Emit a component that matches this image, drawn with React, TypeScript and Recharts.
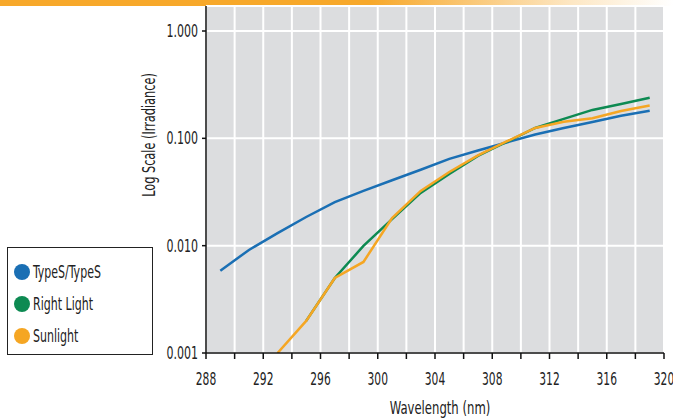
import { LineChart, Line, XAxis, YAxis, CartesianGrid } from 'recharts'

const wavelengths = [289, 291, 293, 295, 297, 299, 301, 303, 305, 307, 309, 311, 313, 315, 317, 319]
const typeS = [0.00585, 0.00912, 0.0131, 0.0185, 0.0255, 0.0324, 0.0407, 0.051, 0.0643, 0.0771, 0.0916, 0.1086, 0.125, 0.142, 0.162, 0.181]
const rightLight = [null, null, null, 0.00199, 0.005, 0.00994, 0.0177, 0.031, 0.0466, 0.0686, 0.0925, 0.125, 0.152, 0.184, 0.209, 0.239]
const sunlight = [null, null, 0.001, 0.00199, 0.005, 0.00705, 0.0181, 0.0324, 0.0486, 0.0693, 0.0935, 0.125, 0.143, 0.154, 0.18, 0.202]

const xTicks = [288, 290, 292, 294, 296, 298, 300, 302, 304, 306, 308, 310, 312, 314, 316, 318, 320]
const yTicks = [0.001, 0.01, 0.1, 1]

const series = [
  { key: 'typeS', name: 'TypeS/TypeS', color: '#1a6fb4' },
  { key: 'rightLight', name: 'Right Light', color: '#0d8a52' },
  { key: 'sunlight', name: 'Sunlight', color: '#f5a623' },
]

const data = wavelengths.map((w, i) => ({
  w,
  typeS: typeS[i],
  rightLight: rightLight[i],
  sunlight: sunlight[i],
}))

const FONT = "'Liberation Sans Narrow', 'DejaVu Sans Condensed', 'Roboto Condensed', 'Liberation Sans', sans-serif"

function XTick({ x, y, payload }: any) {
  if ((payload.value - 288) % 4 !== 0) return null
  return (
    <text
      transform={`translate(${x},${y + 24}) scale(0.66,1)`}
      textAnchor="middle"
      fontSize={18}
      fontFamily={FONT}
      fill="#222"
    >
      {payload.value}
    </text>
  )
}

function YTick({ x, y, payload }: any) {
  return (
    <text
      transform={`translate(${x - 2},${y + 6}) scale(0.68,1)`}
      textAnchor="end"
      fontSize={18}
      fontFamily={FONT}
      fill="#222"
    >
      {payload.value.toFixed(3)}
    </text>
  )
}

function LegendBox() {
  return (
    <div
      style={{
        position: 'absolute',
        left: 7,
        top: 247,
        width: 146,
        height: 108,
        border: '1.5px solid #222',
        background: '#fff',
        boxSizing: 'border-box',
        paddingTop: 8,
      }}
    >
      {series.map((s) => (
        <div key={s.key} style={{ display: 'flex', alignItems: 'center', height: 32 }}>
          <span
            style={{
              width: 16,
              height: 16,
              borderRadius: 8,
              background: s.color,
              marginLeft: 6,
              marginRight: 3,
              display: 'inline-block',
              flex: 'none',
            }}
          />
          <span
            style={{
              fontFamily: FONT,
              fontSize: 17,
              color: '#222',
              display: 'inline-block',
              transform: 'scaleX(0.72)',
              transformOrigin: 'left center',
              whiteSpace: 'nowrap',
            }}
          >
            {s.name}
          </span>
        </div>
      ))}
    </div>
  )
}

export default function App() {
  return (
    <div style={{ position: 'absolute', left: 0, top: 0, width: 673, height: 419, background: '#fff' }}>
      <div
        style={{
          position: 'absolute',
          left: 0,
          top: 0,
          width: 673,
          height: 6,
          background: 'linear-gradient(to right, #f7a82a 0%, #f7a82a 55%, #fde7c4 85%, #ffffff 100%)',
        }}
      />
      <LineChart
        width={673}
        height={419}
        data={data}
        margin={{ top: 6, right: 9, left: 0, bottom: 0 }}
      >
        <CartesianGrid fill="#dcdddf" stroke="#ffffff" strokeWidth={2} />
        <XAxis
          dataKey="w"
          type="number"
          domain={[288, 320]}
          ticks={xTicks}
          interval={0}
          height={66}
          tickSize={6}
          tick={<XTick />}
          axisLine={{ stroke: '#111', strokeWidth: 1.5 }}
          tickLine={{ stroke: '#111', strokeWidth: 1.5 }}
          label={{
            value: 'Wavelength (nm)',
            content: (props: any) => (
              <text
                transform={`translate(440,414) scale(0.72,1)`}
                textAnchor="middle"
                fontSize={18}
                fontFamily={FONT}
                fill="#222"
              >
                {props.value}
              </text>
            ),
          }}
        />
        <YAxis
          scale="log"
          domain={[0.001, 1.71]}
          allowDataOverflow
          ticks={yTicks}
          interval={0}
          width={206}
          tickSize={4}
          tick={<YTick />}
          axisLine={{ stroke: '#111', strokeWidth: 1.5 }}
          tickLine={{ stroke: '#111', strokeWidth: 1.5 }}
          label={{
            value: 'Log Scale (Irradiance)',
            content: (props: any) => (
              <text
                transform={`translate(155,135) rotate(-90) scale(0.7,1)`}
                textAnchor="middle"
                fontSize={18}
                fontFamily={FONT}
                fill="#222"
              >
                {props.value}
              </text>
            ),
          }}
        />
        {series.map((s) => (
          <Line
            key={s.key}
            dataKey={s.key}
            name={s.name}
            stroke={s.color}
            strokeWidth={2.5}
            dot={false}
            type="linear"
            isAnimationActive={false}
          />
        ))}
      </LineChart>
      <LegendBox />
    </div>
  )
}
